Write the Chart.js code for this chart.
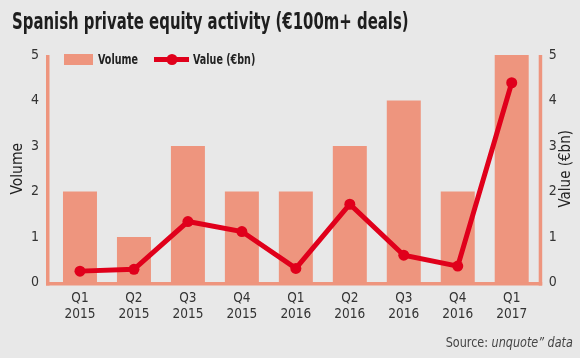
<!DOCTYPE html>
<html>
<head>
<meta charset="utf-8">
<script src="https://cdn.jsdelivr.net/npm/chart.js@4"></script>
<style>
  html, body { margin: 0; padding: 0; background: #e8e8e8; }
  #wrap { position: relative; width: 580px; height: 358px; background: #e8e8e8; overflow: hidden; }
  #title { position: absolute; left: 12px; top: 8px; font-family: "DejaVu Sans Condensed", sans-serif; font-weight: bold; font-size: 23px; color: #1e1e1e; white-space: nowrap; transform: scaleX(0.72); transform-origin: left top; }
  #source { position: absolute; right: 7px; top: 334px; font-family: "DejaVu Sans Condensed", sans-serif; font-size: 14.5px; color: #444; white-space: nowrap; transform: scaleX(0.86); transform-origin: right top; }
  #source i { font-style: italic; }
  #cv { position: absolute; left: 0; top: 0; }
</style>
</head>
<body>
<div id="wrap">
  <canvas id="cv" width="580" height="358"></canvas>
  <div id="title">Spanish private equity activity (€100m+ deals)</div>
  <div id="source">Source: <i>unquote” data</i></div>
</div>
<script>
const categories = [["Q1","2015"],["Q2","2015"],["Q3","2015"],["Q4","2015"],["Q1","2016"],["Q2","2016"],["Q3","2016"],["Q4","2016"],["Q1","2017"]];
const volume = [2, 1, 3, 2, 2, 3, 4, 2, 5];
const valueBn = [0.25, 0.29, 1.34, 1.12, 0.31, 1.72, 0.60, 0.36, 4.39];
const yTicks = [0, 1, 2, 3, 4, 5];

const BAR = '#ee957e';
const RED = '#e0001b';
const FONT = '"DejaVu Sans Condensed", sans-serif';

function narrowText(ctx, text, x, y, sx) {
  ctx.save();
  ctx.translate(x, y);
  ctx.scale(sx, 1);
  ctx.fillText(text, 0, 0);
  ctx.restore();
}

const framePlugin = {
  id: 'frame',
  beforeDatasetsDraw(chart) {
    const ctx = chart.ctx, a = chart.chartArea;
    ctx.save();
    ctx.fillStyle = BAR;
    ctx.fillRect(a.left - 7, a.top, 3.5, a.bottom - a.top + 3);
    ctx.fillRect(a.right, a.top, 3.5, a.bottom - a.top + 3);
    ctx.fillRect(a.left - 7, a.bottom - 0.5, a.right - a.left + 10.5, 3.5);
    ctx.restore();
  },
  afterDraw(chart) {
    const ctx = chart.ctx, a = chart.chartArea;
    const bar = chart.data.datasets.find(d => d.type === 'bar');
    const line = chart.data.datasets.find(d => d.type === 'line');
    ctx.save();
    ctx.font = 'bold 14px ' + FONT;
    ctx.textBaseline = 'middle';
    ctx.fillStyle = BAR;
    ctx.fillRect(64, 54, 29, 11);
    ctx.fillStyle = '#222';
    narrowText(ctx, bar.label, 98, 60, 0.76);
    ctx.strokeStyle = RED;
    ctx.lineWidth = 5;
    ctx.beginPath(); ctx.moveTo(154, 59.5); ctx.lineTo(189, 59.5); ctx.stroke();
    ctx.fillStyle = RED;
    ctx.beginPath(); ctx.arc(172, 59.5, 5.5, 0, Math.PI * 2); ctx.fill();
    ctx.fillStyle = '#222';
    narrowText(ctx, line.label, 193, 60, 0.76);
    // right axis title, reading bottom to top
    ctx.font = '15px ' + FONT;
    ctx.fillStyle = '#222';
    ctx.textAlign = 'center';
    ctx.translate(566, (a.top + a.bottom) / 2);
    ctx.rotate(-Math.PI / 2);
    ctx.fillText(chart.options.scales.y2.title.text, 0, 0);
    ctx.restore();
  }
};

new Chart(document.getElementById('cv'), {
  data: {
    labels: categories,
    datasets: [
      { type: 'line', label: 'Value (€bn)', data: valueBn, yAxisID: 'y2', borderColor: RED, backgroundColor: RED,
        borderWidth: 5, pointRadius: 5.5, pointHoverRadius: 5.5, pointBackgroundColor: RED, pointBorderWidth: 0, tension: 0, order: 0 },
      { type: 'bar', label: 'Volume', data: volume, yAxisID: 'y', backgroundColor: BAR, borderWidth: 0,
        categoryPercentage: 1, barPercentage: 0.63, order: 1 }
    ]
  },
  options: {
    responsive: false,
    animation: false,
    events: [],
    layout: { padding: { top: 55, left: 0, right: 0, bottom: 0 } },
    plugins: { legend: { display: false }, tooltip: { enabled: false }, title: { display: false } },
    scales: {
      x: {
        type: 'category', offset: true,
        grid: { display: false, drawTicks: false },
        border: { display: false },
        ticks: { color: '#333', font: { family: FONT, size: 13.5 }, padding: 8, maxRotation: 0, autoSkip: false },
        afterFit(s) { s.height = 75.5; }
      },
      y: {
        position: 'left', min: 0, max: 5,
        grid: { display: false, drawTicks: false },
        border: { display: false },
        afterBuildTicks(s) { s.ticks = yTicks.map(v => ({ value: v })); },
        ticks: { color: '#333', font: { family: FONT, size: 14 }, padding: 14 },
        title: { display: true, text: 'Volume', color: '#222', font: { family: FONT, size: 15.5 }, padding: { top: 9, bottom: 0 } },
        afterFit(s) { s.width = 53; }
      },
      y2: {
        position: 'right', min: 0, max: 5,
        grid: { display: false, drawTicks: false },
        border: { display: false },
        afterBuildTicks(s) { s.ticks = yTicks.map(v => ({ value: v })); },
        ticks: { color: '#333', font: { family: FONT, size: 14 }, padding: 10 },
        title: { display: false, text: 'Value (€bn)' },
        afterFit(s) { s.width = 41.3; }
      }
    }
  },
  plugins: [framePlugin]
});
</script>
</body>
</html>
